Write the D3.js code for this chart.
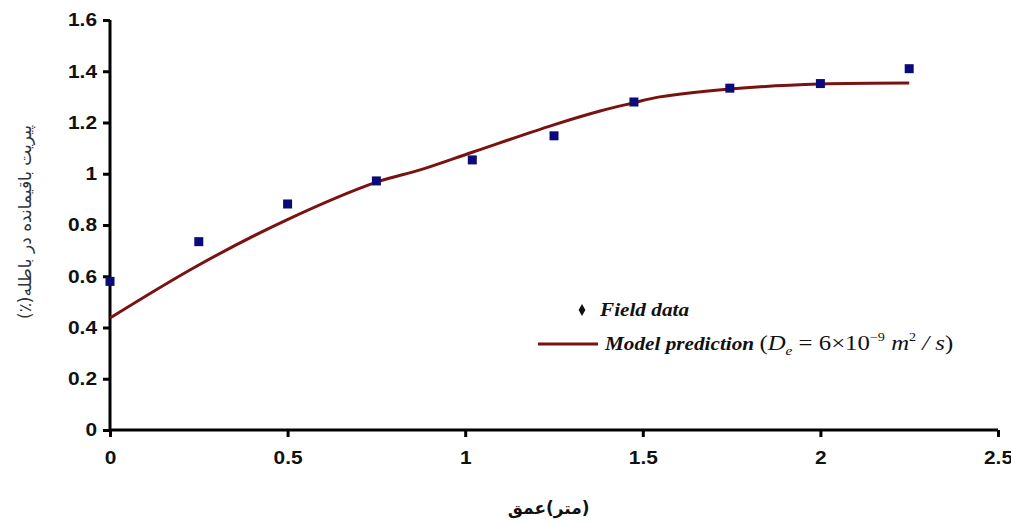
<!DOCTYPE html>
<meta charset="utf-8">
<style>
body { margin: 0; background: #fff; }
.axis path, .axis line { stroke: #000; stroke-width: 3px; }
.axis text { font-family: "Liberation Sans", Arial, sans-serif; font-weight: bold; font-size: 18px; fill: #111; }
.legend text { font-family: "Liberation Serif", "Times New Roman", serif; font-size: 18px; fill: #111; }
.title { font-family: "DejaVu Sans", sans-serif; font-size: 17px; }
</style>
<svg width="1011" height="523"></svg>
<script src="https://d3js.org/d3.v7.min.js"></script>
<script>

// field data (depth m, residual pyrite %)
var fieldX = [0, 0.25, 0.5, 0.75, 1.02, 1.25, 1.475, 1.745, 2.0, 2.25];
var fieldY = [0.58, 0.735, 0.882, 0.972, 1.054, 1.148, 1.28, 1.334, 1.352, 1.41];

// model prediction curve
var modelX = [0, 0.25, 0.498, 0.752, 0.873, 1.022, 1.247, 1.38, 1.472, 1.548, 1.745, 2.0, 2.25];
var modelY = [0.437, 0.644, 0.82, 0.968, 1.015, 1.085, 1.19, 1.245, 1.276, 1.30, 1.331, 1.35, 1.354];

var xTicks = [0, 0.5, 1, 1.5, 2, 2.5];
var yTicks = [0, 0.2, 0.4, 0.6, 0.8, 1, 1.2, 1.4, 1.6];

var svg = d3.select("svg");
var margin = { left: 110, top: 20 };
var plotW = 888, plotH = 410;

var x = d3.scaleLinear().domain([0, 2.5]).range([margin.left, margin.left + plotW]);
var y = d3.scaleLinear().domain([0, 1.6]).range([margin.top + plotH, margin.top]);

// stretch text a little wider, like the original
function widen(sel, k) {
    sel.each(function () {
        var len = this.getComputedTextLength();
        d3.select(this).attr("textLength", len * k).attr("lengthAdjust", "spacingAndGlyphs");
    });
}

var gx = svg.append("g")
    .attr("class", "axis")
    .attr("transform", "translate(0," + y(0) + ")")
    .call(d3.axisBottom(x).tickValues(xTicks).tickSize(7).tickPadding(14).tickFormat(d3.format("")))
    .call(function (g) { g.select(".domain").attr("d", "M" + x(0) + ",0H" + x(2.5)); });
widen(gx.selectAll("text"), 1.16);

var gy = svg.append("g")
    .attr("class", "axis")
    .attr("transform", "translate(" + x(0) + ",0)")
    .call(d3.axisLeft(y).tickValues(yTicks).tickSize(7).tickPadding(6).tickFormat(d3.format("")))
    .call(function (g) { g.select(".domain").attr("d", "M0," + y(1.6) + "V" + y(0)); });
widen(gy.selectAll("text"), 1.16);

var line = d3.line()
    .x(function (d, i) { return x(modelX[i]); })
    .y(function (d, i) { return y(modelY[i]); })
    .curve(d3.curveCatmullRom.alpha(0.5));

svg.append("path")
    .datum(modelX)
    .attr("d", line)
    .attr("fill", "none")
    .attr("stroke", "#7a1212")
    .attr("stroke-width", 3);

svg.append("g")
    .selectAll("rect")
    .data(fieldX)
    .enter().append("rect")
    .attr("x", function (d) { return x(d) - 4.5; })
    .attr("y", function (d, i) { return y(fieldY[i]) - 4.5; })
    .attr("width", 9)
    .attr("height", 9)
    .attr("fill", "#0a0a78");

// axis titles
svg.append("text")
    .attr("class", "title")
    .attr("transform", "translate(31,222) rotate(-90)")
    .attr("text-anchor", "middle")
    .attr("direction", "rtl")
    .style("fill", "#333")
    .text("پیریت باقیمانده در باطله(٪)");

// x title kept in the original's visual order: word, then bracketed unit
svg.append("text")
    .attr("class", "title")
    .attr("x", 546).attr("y", 514)
    .attr("text-anchor", "end")
    .style("font-weight", "bold")
    .style("fill", "#111")
    .text("عمق");
svg.append("text")
    .attr("class", "title")
    .attr("x", 546).attr("y", 514)
    .attr("text-anchor", "start")
    .attr("direction", "ltr")
    .style("font-weight", "bold")
    .style("fill", "#111")
    .text("(متر)");

// legend
var legend = svg.append("g").attr("class", "legend");
legend.append("path")
    .attr("d", d3.symbol().type(d3.symbolDiamond).size(40))
    .attr("transform", "translate(582,310)")
    .attr("fill", "#111");
legend.append("text")
    .attr("transform", "translate(600,316) scale(1.18,1)")
    .style("font-weight", "bold").style("font-style", "italic")
    .text("Field data");
legend.append("line")
    .attr("x1", 538).attr("x2", 598).attr("y1", 344).attr("y2", 344)
    .attr("stroke", "#7a1212").attr("stroke-width", 3);
var t = legend.append("text").attr("transform", "translate(605,350) scale(1.18,1)");
t.append("tspan").style("font-weight", "bold").style("font-style", "italic").text("Model prediction ");
t.append("tspan").style("font-size", "21px").text("(");
t.append("tspan").style("font-style", "italic").style("font-size", "21px").text("D");
t.append("tspan").style("font-style", "italic").style("font-size", "13px").attr("dy", 5).text("e");
t.append("tspan").style("font-size", "21px").attr("dy", -5).text(" = 6×10");
t.append("tspan").style("font-size", "12px").attr("dy", -9).text("−9");
t.append("tspan").style("font-style", "italic").style("font-size", "21px").attr("dy", 9).text(" m");
t.append("tspan").style("font-size", "12px").attr("dy", -9).text("2");
t.append("tspan").style("font-style", "italic").style("font-size", "21px").attr("dy", 9).text(" / s");
t.append("tspan").style("font-size", "21px").text(")");

</script>
